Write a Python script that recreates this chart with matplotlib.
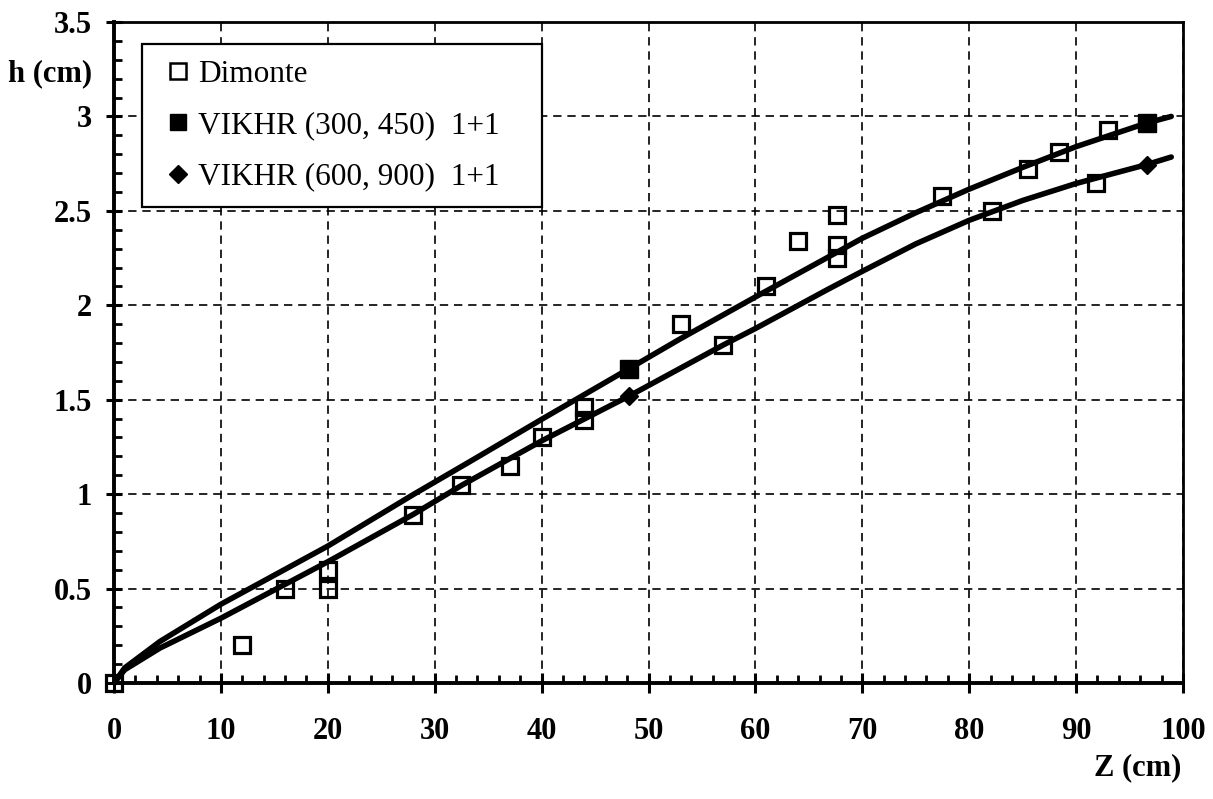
import matplotlib
matplotlib.use("Agg")
import matplotlib.pyplot as plt
from matplotlib.lines import Line2D
from matplotlib.ticker import MultipleLocator, FixedLocator, FixedFormatter

# ---- data ----
dimonte_z = [0, 12, 16, 20, 20, 28, 32.5, 37, 40, 44, 44, 53, 57, 61, 64,
             67.6, 67.6, 67.6, 77.5, 82.1, 85.5, 88.4, 91.9, 93]
dimonte_h = [0, 0.2, 0.5, 0.5, 0.6, 0.89, 1.05, 1.15, 1.30, 1.39, 1.46, 1.9,
             1.79, 2.1, 2.34, 2.48, 2.32, 2.25, 2.58, 2.5, 2.72, 2.81, 2.65, 2.93]

v300_curve_z = [0, 1, 4.3, 10, 20, 28, 33.4, 40, 48.2, 52.9, 60, 66.8, 70, 75, 80, 85, 90, 96.6, 98.9]
v300_curve_h = [0, 0.08, 0.22, 0.417, 0.725, 0.998, 1.176, 1.396, 1.665, 1.82,
                2.044, 2.255, 2.355, 2.49, 2.615, 2.73, 2.84, 2.965, 3.0]
v300_mark_z = [48.2, 96.6]
v300_mark_h = [1.665, 2.965]

v600_curve_z = [0, 1, 4.3, 10, 20, 28, 32.5, 40, 48.2, 57, 60, 66.8, 70, 75, 80, 85, 90, 96.6, 98.9]
v600_curve_h = [0, 0.07, 0.185, 0.343, 0.642, 0.893, 1.046, 1.282, 1.52, 1.79,
                1.877, 2.085, 2.18, 2.325, 2.45, 2.555, 2.645, 2.745, 2.785]
v600_mark_z = [48.2, 96.6]
v600_mark_h = [1.52, 2.745]

x_ticks = [0, 10, 20, 30, 40, 50, 60, 70, 80, 90, 100]
y_ticks = [0, 0.5, 1, 1.5, 2, 2.5, 3, 3.5]
y_tick_labels = ["0", "0.5", "1", "1.5", "2", "2.5", "3", "3.5"]
legend_labels = ["Dimonte", "VIKHR (300, 450)  1+1", "VIKHR (600, 900)  1+1"]

# ---- figure ----
W, H = 1213, 799
fig = plt.figure(figsize=(W / 100, H / 100), dpi=100)
ax = fig.add_axes([114 / W, 1 - 683 / H, (1183 - 114) / W, (683 - 22) / H])

serif = "Liberation Serif"

ax.plot(v300_curve_z, v300_curve_h, color="black", lw=4.0, solid_capstyle="round",
        solid_joinstyle="round", zorder=3)
ax.plot(v600_curve_z, v600_curve_h, color="black", lw=4.0, solid_capstyle="round",
        solid_joinstyle="round", zorder=3)
ax.plot(v300_mark_z, v300_mark_h, linestyle="none", marker="s", ms=13.5,
        mfc="black", mec="black", zorder=4)
ax.plot(v600_mark_z, v600_mark_h, linestyle="none", marker="D", ms=9.5,
        mfc="black", mec="black", zorder=4)
ax.plot(dimonte_z, dimonte_h, linestyle="none", marker="s", ms=11.5,
        mfc="none", mec="black", mew=2.3, zorder=5, clip_on=False)

ax.set_xlim(0, 100)
ax.set_ylim(0, 3.5)

ax.xaxis.set_major_locator(FixedLocator(x_ticks))
ax.xaxis.set_minor_locator(MultipleLocator(2))
ax.yaxis.set_major_locator(FixedLocator(y_ticks))
ax.yaxis.set_major_formatter(FixedFormatter(y_tick_labels))
ax.yaxis.set_minor_locator(MultipleLocator(0.1))

ax.grid(True, which="major", color="black", lw=1.2, linestyle=(0, (5, 3.5)))
ax.set_axisbelow(True)

ax.tick_params(axis="x", which="major", direction="inout", length=15, width=2.2,
               pad=17, labelsize=22)
ax.tick_params(axis="x", which="minor", direction="in", length=6, width=2)
ax.tick_params(axis="y", which="major", direction="inout", length=12, width=2.2,
               pad=10, labelsize=22)
ax.tick_params(axis="y", which="minor", direction="in", length=6, width=2)
for lab in ax.get_xticklabels() + ax.get_yticklabels():
    lab.set_fontfamily(serif)
    lab.set_fontweight("bold")

ax.spines["left"].set_linewidth(2.8)
ax.spines["bottom"].set_linewidth(2.8)
ax.spines["top"].set_linewidth(2.0)
ax.spines["right"].set_linewidth(2.0)

# axis labels placed as in the reference
fig.text(50 / W, 1 - 74 / H, "h (cm)", fontfamily=serif, fontweight="bold",
         fontsize=22, ha="center", va="center")
fig.text(1181 / W, 1 - 768 / H, "Z (cm)", fontfamily=serif, fontweight="bold",
         fontsize=22, ha="right", va="center")

# legend
handles = [
    Line2D([], [], linestyle="none", marker="s", ms=11.5, mfc="white", mec="black", mew=1.8),
    Line2D([], [], linestyle="none", marker="s", ms=11.5, mfc="black", mec="black"),
    Line2D([], [], linestyle="none", marker="D", ms=9, mfc="black", mec="black"),
]
leg = ax.legend(handles, legend_labels, loc="upper left",
                bbox_to_anchor=(142 / W, 1 - 210 / H, 400 / W, 166 / H),
                bbox_transform=fig.transFigure, mode="expand", borderaxespad=0,
                prop={"family": serif, "size": 22.5}, frameon=True, fancybox=False,
                framealpha=1, edgecolor="black", handlelength=1.3,
                handletextpad=0.0, labelspacing=0.72, borderpad=0.5)
leg.get_frame().set_linewidth(1.6)
leg.set_zorder(10)

fig.savefig("out.png", dpi=100)
